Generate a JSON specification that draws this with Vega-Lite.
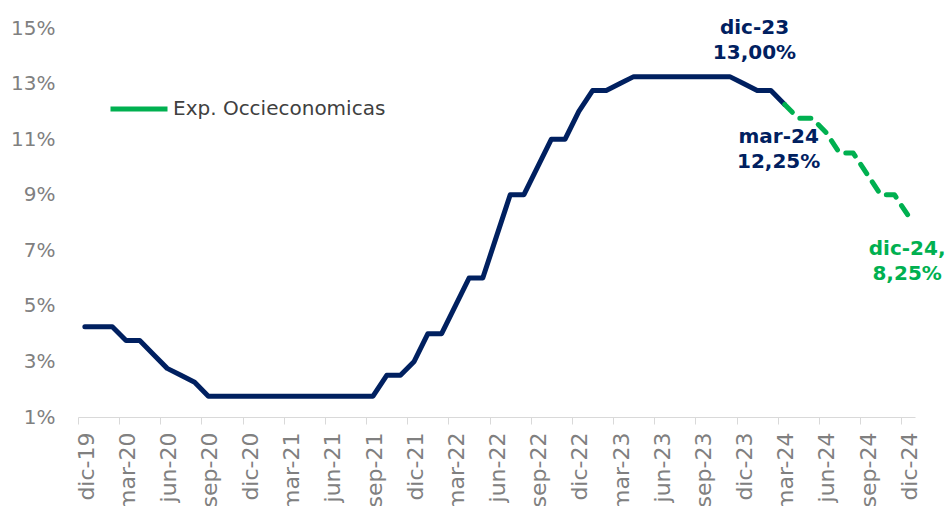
{
  "$schema": "https://vega.github.io/schema/vega-lite/v6.json",
  "width": 837,
  "height": 389,
  "autosize": {"type": "none"},
  "padding": {"left": 78, "top": 28, "right": 32, "bottom": 89},
  "background": "white",
  "config": {"view": {"stroke": null}, "font": "DejaVu Sans"},
  "datasets": {
    "tasa": [
      {"i": 0, "mes": "dic-19", "tasa": 4.25},
      {"i": 1, "mes": "ene-20", "tasa": 4.25},
      {"i": 2, "mes": "feb-20", "tasa": 4.25},
      {"i": 3, "mes": "mar-20", "tasa": 3.75},
      {"i": 4, "mes": "abr-20", "tasa": 3.75},
      {"i": 5, "mes": "may-20", "tasa": 3.25},
      {"i": 6, "mes": "jun-20", "tasa": 2.75},
      {"i": 7, "mes": "jul-20", "tasa": 2.5},
      {"i": 8, "mes": "ago-20", "tasa": 2.25},
      {"i": 9, "mes": "sep-20", "tasa": 1.75},
      {"i": 10, "mes": "oct-20", "tasa": 1.75},
      {"i": 11, "mes": "nov-20", "tasa": 1.75},
      {"i": 12, "mes": "dic-20", "tasa": 1.75},
      {"i": 13, "mes": "ene-21", "tasa": 1.75},
      {"i": 14, "mes": "feb-21", "tasa": 1.75},
      {"i": 15, "mes": "mar-21", "tasa": 1.75},
      {"i": 16, "mes": "abr-21", "tasa": 1.75},
      {"i": 17, "mes": "may-21", "tasa": 1.75},
      {"i": 18, "mes": "jun-21", "tasa": 1.75},
      {"i": 19, "mes": "jul-21", "tasa": 1.75},
      {"i": 20, "mes": "ago-21", "tasa": 1.75},
      {"i": 21, "mes": "sep-21", "tasa": 1.75},
      {"i": 22, "mes": "oct-21", "tasa": 2.5},
      {"i": 23, "mes": "nov-21", "tasa": 2.5},
      {"i": 24, "mes": "dic-21", "tasa": 3.0},
      {"i": 25, "mes": "ene-22", "tasa": 4.0},
      {"i": 26, "mes": "feb-22", "tasa": 4.0},
      {"i": 27, "mes": "mar-22", "tasa": 5.0},
      {"i": 28, "mes": "abr-22", "tasa": 6.0},
      {"i": 29, "mes": "may-22", "tasa": 6.0},
      {"i": 30, "mes": "jun-22", "tasa": 7.5},
      {"i": 31, "mes": "jul-22", "tasa": 9.0},
      {"i": 32, "mes": "ago-22", "tasa": 9.0},
      {"i": 33, "mes": "sep-22", "tasa": 10.0},
      {"i": 34, "mes": "oct-22", "tasa": 11.0},
      {"i": 35, "mes": "nov-22", "tasa": 11.0},
      {"i": 36, "mes": "dic-22", "tasa": 12.0},
      {"i": 37, "mes": "ene-23", "tasa": 12.75},
      {"i": 38, "mes": "feb-23", "tasa": 12.75},
      {"i": 39, "mes": "mar-23", "tasa": 13.0},
      {"i": 40, "mes": "abr-23", "tasa": 13.25},
      {"i": 41, "mes": "may-23", "tasa": 13.25},
      {"i": 42, "mes": "jun-23", "tasa": 13.25},
      {"i": 43, "mes": "jul-23", "tasa": 13.25},
      {"i": 44, "mes": "ago-23", "tasa": 13.25},
      {"i": 45, "mes": "sep-23", "tasa": 13.25},
      {"i": 46, "mes": "oct-23", "tasa": 13.25},
      {"i": 47, "mes": "nov-23", "tasa": 13.25},
      {"i": 48, "mes": "dic-23", "tasa": 13.0},
      {"i": 49, "mes": "ene-24", "tasa": 12.75},
      {"i": 50, "mes": "feb-24", "tasa": 12.75},
      {"i": 51, "mes": "mar-24", "tasa": 12.25}
    ],
    "pronostico": [
      {"i": 51, "mes": "mar-24", "tasa": 12.25, "serie": "Exp. Occieconomicas"},
      {"i": 52, "mes": "abr-24", "tasa": 11.75, "serie": "Exp. Occieconomicas"},
      {"i": 53, "mes": "may-24", "tasa": 11.75, "serie": "Exp. Occieconomicas"},
      {"i": 54, "mes": "jun-24", "tasa": 11.25, "serie": "Exp. Occieconomicas"},
      {"i": 55, "mes": "jul-24", "tasa": 10.5, "serie": "Exp. Occieconomicas"},
      {"i": 56, "mes": "ago-24", "tasa": 10.5, "serie": "Exp. Occieconomicas"},
      {"i": 57, "mes": "sep-24", "tasa": 9.75, "serie": "Exp. Occieconomicas"},
      {"i": 58, "mes": "oct-24", "tasa": 9.0, "serie": "Exp. Occieconomicas"},
      {"i": 59, "mes": "nov-24", "tasa": 9.0, "serie": "Exp. Occieconomicas"},
      {"i": 60, "mes": "dic-24", "tasa": 8.25, "serie": "Exp. Occieconomicas"}
    ],
    "etiquetas": [
      {"i": 48, "mes": "dic-23", "tasa": 13.0, "texto": "dic-23\n13,00%"},
      {"i": 51, "mes": "mar-24", "tasa": 12.25, "texto": "mar-24\n12,25%"},
      {"i": 60, "mes": "dic-24", "tasa": 8.25, "texto": "dic-24,\n8,25%"}
    ]
  },
  "layer": [
    {
      "data": {"name": "tasa"},
      "mark": {"type": "line", "color": "#002060", "strokeWidth": 5, "strokeCap": "round", "strokeJoin": "round"},
      "encoding": {
        "x": {
          "field": "i", "type": "quantitative",
          "scale": {"domain": [-0.5, 60.5], "nice": false, "zero": false},
          "axis": {
            "values": [-0.5, 2.5, 5.5, 8.5, 11.5, 14.5, 17.5, 20.5, 23.5, 26.5, 29.5, 32.5, 35.5, 38.5, 41.5, 44.5, 47.5, 50.5, 53.5, 56.5, 59.5],
            "labelExpr": "['dic-19','mar-20','jun-20','sep-20','dic-20','mar-21','jun-21','sep-21','dic-21','mar-22','jun-22','sep-22','dic-22','mar-23','jun-23','sep-23','dic-23','mar-24','jun-24','sep-24','dic-24'][round((datum.value + 0.5) / 3)]",
            "labelAngle": 270,
            "labelAlign": "right",
            "labelBaseline": "middle",
            "labelOffset": 8,
            "labelPadding": 8,
            "labelFontSize": 22,
            "labelColor": "#808080",
            "labelFlush": false,
            "labelOverlap": false,
            "labelLimit": 0,
            "tickSize": 7,
            "tickColor": "#d9d9d9",
            "domainColor": "#d9d9d9",
            "domainWidth": 1,
            "grid": false,
            "title": null
          }
        },
        "y": {
          "field": "tasa", "type": "quantitative",
          "scale": {"domain": [1, 15], "nice": false, "zero": false},
          "axis": {
            "values": [1, 3, 5, 7, 9, 11, 13, 15],
            "labelExpr": "datum.value + '%'",
            "domain": false,
            "ticks": false,
            "grid": false,
            "labelPadding": 23,
            "labelFontSize": 20,
            "labelColor": "#808080",
            "title": null
          }
        }
      }
    },
    {
      "data": {"name": "pronostico"},
      "mark": {"type": "line", "strokeWidth": 5, "strokeDash": [11, 10], "strokeCap": "round", "strokeJoin": "round"},
      "encoding": {
        "x": {"field": "i", "type": "quantitative"},
        "y": {"field": "tasa", "type": "quantitative"},
        "color": {
          "field": "serie", "type": "nominal",
          "scale": {"domain": ["Exp. Occieconomicas"], "range": ["#00B050"]},
          "legend": {
            "orient": "none",
            "legendX": 30,
            "legendY": 50,
            "title": null,
            "padding": 0,
            "symbolType": "stroke",
            "symbolSize": 3249,
            "symbolStrokeWidth": 5,
            "symbolDash": [],
            "labelFontSize": 20,
            "labelColor": "#404040",
            "labelOffset": 3,
            "labelLimit": 0
          }
        }
      }
    },
    {
      "data": {"name": "etiquetas"},
      "transform": [{"filter": "datum.mes == 'dic-23'"}],
      "mark": {"type": "text", "fontWeight": "bold", "fontSize": 20, "lineBreak": "\n", "lineHeight": 25, "align": "center", "baseline": "middle", "color": "#002060", "dx": 11, "dy": -56},
      "encoding": {
        "x": {"field": "i", "type": "quantitative"},
        "y": {"field": "tasa", "type": "quantitative"},
        "text": {"field": "texto"}
      }
    },
    {
      "data": {"name": "etiquetas"},
      "transform": [{"filter": "datum.mes == 'mar-24'"}],
      "mark": {"type": "text", "fontWeight": "bold", "fontSize": 20, "lineBreak": "\n", "lineHeight": 25, "align": "center", "baseline": "middle", "color": "#002060", "dx": -6, "dy": 33},
      "encoding": {
        "x": {"field": "i", "type": "quantitative"},
        "y": {"field": "tasa", "type": "quantitative"},
        "text": {"field": "texto"}
      }
    },
    {
      "data": {"name": "etiquetas"},
      "transform": [{"filter": "datum.mes == 'dic-24'"}],
      "mark": {"type": "text", "fontWeight": "bold", "fontSize": 20, "lineBreak": "\n", "lineHeight": 25, "align": "center", "baseline": "middle", "color": "#00B050", "dx": -1, "dy": 33},
      "encoding": {
        "x": {"field": "i", "type": "quantitative"},
        "y": {"field": "tasa", "type": "quantitative"},
        "text": {"field": "texto"}
      }
    }
  ]
}
